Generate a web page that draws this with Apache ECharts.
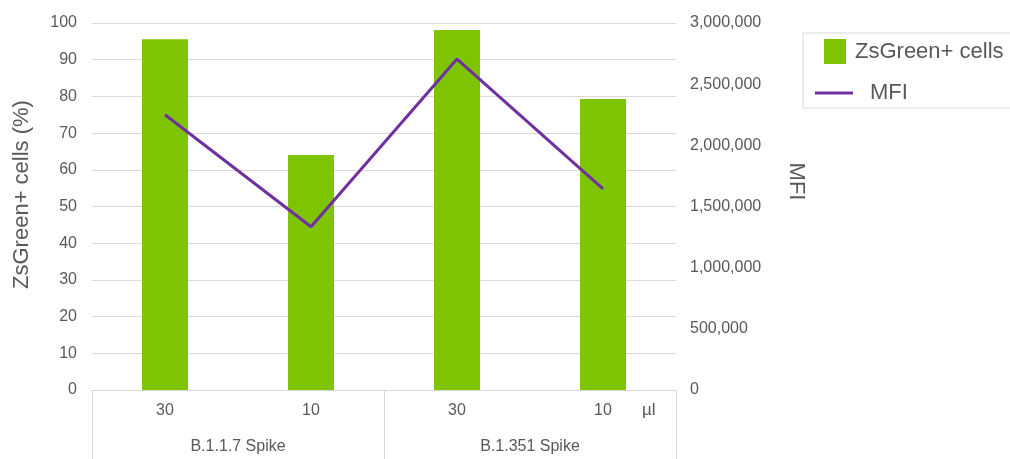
<!DOCTYPE html>
<html>
<head>
<meta charset="utf-8">
<script src="https://cdn.jsdelivr.net/npm/echarts@6/dist/echarts.min.js"></script>
<style>
  html, body { margin: 0; padding: 0; background: #ffffff; }
  #chart { width: 1010px; height: 459px; }
</style>
</head>
<body>
<div id="chart"></div>
<script>
// Dose per well (µl) for each condition, and the spike variant groups
const doses = ['30', '10', '30', '10'];
const groups = ['B.1.1.7 Spike', 'B.1.351 Spike'];

// Percentage of ZsGreen+ cells (left axis)
const zsGreenPct = [95.6, 64.0, 98.1, 79.3];

// Mean fluorescence intensity (right axis)
const mfi = [2250000, 1335000, 2705000, 1645000];

const FONT = '"Liberation Sans", Arial, sans-serif';
const TEXT = '#595959';
const GRID = '#d9d9d9';

const chart = echarts.init(document.getElementById('chart'), null, { renderer: 'canvas' });

chart.setOption({
  backgroundColor: '#ffffff',
  textStyle: { fontFamily: FONT, color: TEXT },
  grid: { left: 92, right: 334, top: 23, bottom: 69, containLabel: false },
  legend: [
    {
      data: [{ name: 'ZsGreen+ cells', icon: 'rect' }],
      orient: 'vertical',
      left: 803,
      top: 33,
      padding: [6, 60, 44, 21],
      itemWidth: 22,
      itemHeight: 25,
      itemGap: 0,
      borderColor: GRID,
      borderWidth: 1,
      textStyle: { fontFamily: FONT, fontSize: 22, color: TEXT, padding: [2, 0, 0, 4] },
      selectedMode: false
    },
    {
      // plain line key (no point marker) for the MFI series
      data: [{ name: 'MFI', icon: 'path://M0,0 M0,14 M0,5.5 L38,5.5 L38,8.5 L0,8.5 Z' }],
      orient: 'vertical',
      left: 815,
      top: 82,
      padding: 0,
      itemWidth: 38,
      itemHeight: 14,
      itemGap: 0,
      textStyle: { fontFamily: FONT, fontSize: 22, color: TEXT, padding: [0, 0, 0, 12] },
      selectedMode: false
    }
  ],
  xAxis: [
    {
      type: 'category',
      data: doses,
      position: 'bottom',
      boundaryGap: true,
      axisLine: { show: true, lineStyle: { color: GRID, width: 1 } },
      axisTick: { show: false },
      axisLabel: { margin: 13, fontSize: 16, color: TEXT, fontFamily: FONT },
      name: 'µl',
      nameLocation: 'end',
      nameGap: -34,
      nameTextStyle: {
        fontFamily: FONT, fontSize: 17, color: TEXT,
        align: 'left', verticalAlign: 'top', padding: [12, 0, 0, 0]
      }
    },
    {
      type: 'category',
      data: groups,
      position: 'bottom',
      boundaryGap: true,
      axisLine: { show: true, lineStyle: { color: GRID, width: 1 } },
      axisTick: { show: true, length: 69, lineStyle: { color: GRID, width: 1 } },
      axisLabel: { margin: 49, fontSize: 16, color: TEXT, fontFamily: FONT }
    }
  ],
  yAxis: [
    {
      type: 'value',
      min: 0,
      max: 100,
      interval: 10,
      position: 'left',
      axisLine: { show: false },
      axisTick: { show: false },
      splitLine: { show: true, lineStyle: { color: GRID, width: 1 } },
      axisLabel: { margin: 15, fontSize: 16, color: TEXT, fontFamily: FONT },
      name: 'ZsGreen+ cells (%)',
      nameLocation: 'middle',
      nameGap: 59,
      nameTextStyle: { fontFamily: FONT, fontSize: 22, color: TEXT, padding: [0, 0, 0, 24] }
    },
    {
      type: 'value',
      min: 0,
      max: 3000000,
      interval: 500000,
      position: 'right',
      alignTicks: false,
      axisLine: { show: false },
      axisTick: { show: false },
      splitLine: { show: false },
      axisLabel: {
        margin: 14, fontSize: 16, color: TEXT, fontFamily: FONT,
        formatter: v => v.toLocaleString('en-US')
      },
      name: 'MFI',
      nameLocation: 'middle',
      nameRotate: -90,
      nameGap: 109,
      nameTextStyle: { fontFamily: FONT, fontSize: 22, color: TEXT, padding: [0, 50, 0, 0] }
    }
  ],
  series: [
    {
      name: 'ZsGreen+ cells',
      type: 'bar',
      xAxisIndex: 0,
      yAxisIndex: 0,
      data: zsGreenPct,
      barWidth: 46,
      itemStyle: { color: '#7fc400' },
      animation: false
    },
    {
      name: 'MFI',
      type: 'line',
      xAxisIndex: 0,
      yAxisIndex: 1,
      data: mfi,
      symbol: 'none',
      lineStyle: { color: '#7030a0', width: 3 },
      itemStyle: { color: '#7030a0' },
      animation: false
    }
  ],
  animation: false
});
</script>
</body>
</html>
